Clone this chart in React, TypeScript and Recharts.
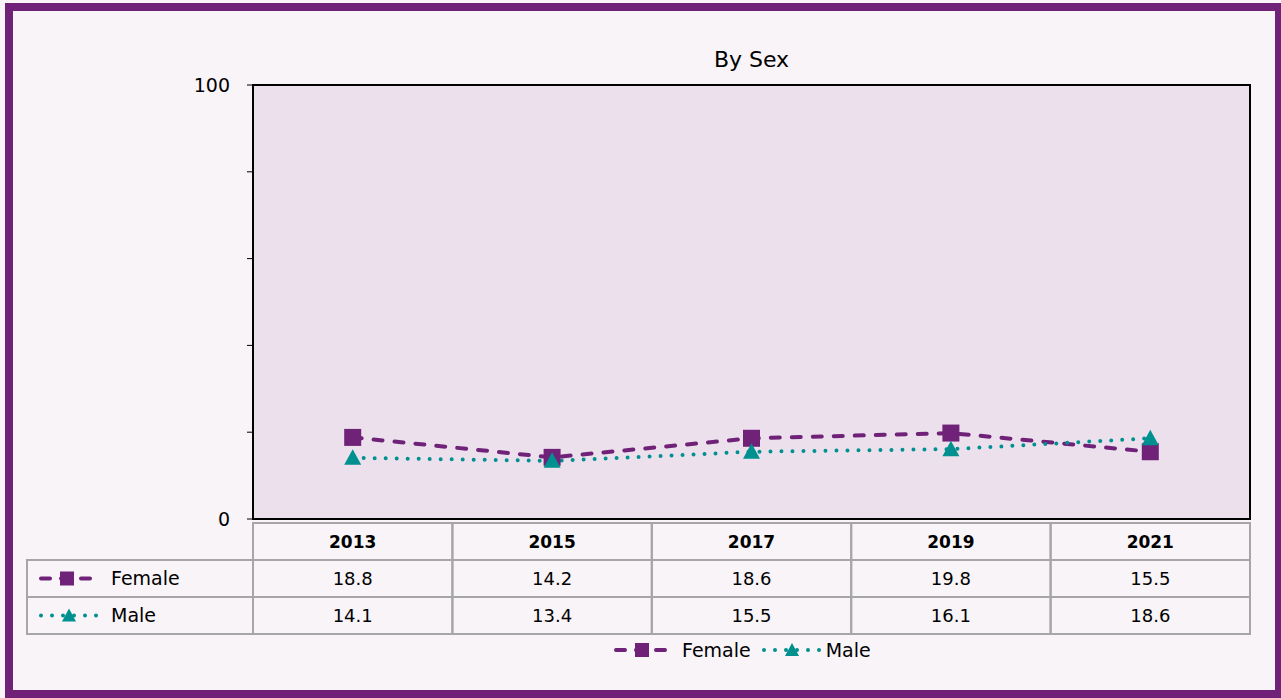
import React from "react";
import { LineChart, Line, XAxis, YAxis } from "recharts";

const years = ["2013", "2015", "2017", "2019", "2021"];
const female = [18.8, 14.2, 18.6, 19.8, 15.5];
const male = [14.1, 13.4, 15.5, 16.1, 18.6];
const yTicks = [0, 20, 40, 60, 80, 100];
const title = "By Sex";
const seriesNames = ["Female", "Male"];

const PURPLE = "#6f2277";
const TEAL = "#00908f";
const GRID = "#a6a6a6";
const FONT = "'DejaVu Sans', sans-serif";

const data = years.map((y, i) => ({ year: y, Female: female[i], Male: male[i] }));

const W = 1281;
const H = 698;
const PLOT_L = 253;
const PLOT_R = 1250;
const PLOT_T = 85;
const PLOT_B = 519;
const COL_W = (PLOT_R - PLOT_L) / years.length;

const SquareDot = (p: any) => {
  const { cx, cy, index } = p;
  if (cx == null || cy == null) return <g key={`sq-${index}`} />;
  return <rect key={`sq-${index}`} x={cx - 8.5} y={cy - 8.5} width={17} height={17} fill={PURPLE} />;
};

const TriDot = (p: any) => {
  const { cx, cy, index } = p;
  if (cx == null || cy == null) return <g key={`tr-${index}`} />;
  return (
    <polygon
      key={`tr-${index}`}
      points={`${cx},${cy - 8.5} ${cx + 8.5},${cy + 7} ${cx - 8.5},${cy + 7}`}
      fill={TEAL}
    />
  );
};

const FemaleIcon = ({ x, y }: { x: number; y: number }) => (
  <g>
    <line x1={x + 2} y1={y} x2={x + 58} y2={y} stroke={PURPLE} strokeWidth={4} strokeDasharray="9 11" strokeLinecap="round" />
    <rect x={x + 21} y={y - 7} width={14} height={14} fill={PURPLE} />
  </g>
);

const MaleIcon = ({ x, y }: { x: number; y: number }) => (
  <g>
    <line x1={x + 2} y1={y} x2={x + 58} y2={y} stroke={TEAL} strokeWidth={4} strokeDasharray="0 11" strokeLinecap="round" />
    <polygon points={`${x + 30},${y - 7} ${x + 37},${y + 6} ${x + 23},${y + 6}`} fill={TEAL} />
  </g>
);

const TableTick = (props: any) => {
  const { x, y, payload, index } = props;
  const i = typeof index === "number" ? index : years.indexOf(payload.value);
  const left = x - COL_W / 2;
  const top = y + 4;
  const hH = 37;
  const rH = 37;
  return (
    <g>
      <rect x={left} y={top} width={COL_W} height={hH} fill="none" stroke={GRID} strokeWidth={2} />
      <rect x={left} y={top + hH} width={COL_W} height={rH} fill="none" stroke={GRID} strokeWidth={2} />
      <rect x={left} y={top + hH + rH} width={COL_W} height={rH} fill="none" stroke={GRID} strokeWidth={2} />
      <text x={x} y={top + hH / 2 + 6} textAnchor="middle" fontFamily={FONT} fontSize={17} fontWeight="bold" fill="#000">
        {payload.value}
      </text>
      <text x={x} y={top + hH + rH / 2 + 6.5} textAnchor="middle" fontFamily={FONT} fontSize={18} fill="#000">
        {female[i]}
      </text>
      <text x={x} y={top + hH + rH + rH / 2 + 6.5} textAnchor="middle" fontFamily={FONT} fontSize={18} fill="#000">
        {male[i]}
      </text>
      {i === 0 && (
        <g>
          <rect x={27} y={top + hH} width={left - 27} height={rH} fill="none" stroke={GRID} strokeWidth={2} />
          <rect x={27} y={top + hH + rH} width={left - 27} height={rH} fill="none" stroke={GRID} strokeWidth={2} />
          <FemaleIcon x={39} y={top + hH + rH / 2} />
          <text x={111} y={top + hH + rH / 2 + 6.5} fontFamily={FONT} fontSize={19} fill="#000">
            {seriesNames[0]}
          </text>
          <MaleIcon x={39} y={top + hH + rH + rH / 2} />
          <text x={111} y={top + hH + rH + rH / 2 + 6.5} fontFamily={FONT} fontSize={19} fill="#000">
            {seriesNames[1]}
          </text>
        </g>
      )}
    </g>
  );
};

export default function App() {
  return (
    <div
      style={{
        position: "absolute",
        left: 0,
        top: 0,
        width: W,
        height: H,
        background: "#f8f4f8",
        fontFamily: FONT,
        overflow: "hidden",
      }}
    >
      <div
        style={{
          position: "absolute",
          left: 5,
          top: 3,
          width: W - 5 + 2,
          height: H - 3,
          boxSizing: "border-box",
          border: `8px solid ${PURPLE}`,
        }}
      />
      <div
        style={{
          position: "absolute",
          left: PLOT_L - 1,
          top: PLOT_T - 1,
          width: PLOT_R - PLOT_L + 2,
          height: PLOT_B - PLOT_T + 2,
          boxSizing: "border-box",
          border: "2px solid #000",
          background: "#ebe0ec",
        }}
      />
      <div
        style={{
          position: "absolute",
          left: PLOT_L,
          width: PLOT_R - PLOT_L,
          top: 47,
          textAlign: "center",
          fontSize: 22,
          lineHeight: "26px",
          color: "#000",
        }}
      >
        {title}
      </div>
      <div style={{ position: "absolute", left: 0, top: 0 }}>
        <LineChart
          width={W}
          height={H}
          data={data}
          margin={{ top: PLOT_T, right: W - PLOT_R, left: PLOT_L - 60, bottom: 0 }}
        >
          <XAxis
            dataKey="year"
            padding={{ left: COL_W / 2, right: COL_W / 2 }}
            axisLine={{ stroke: "#000", strokeWidth: 2 }}
            tickLine={false}
            tickSize={0}
            tickMargin={0}
            interval={0}
            height={H - PLOT_B}
            tick={<TableTick />}
          />
          <YAxis
            width={60}
            domain={[0, 100]}
            ticks={yTicks}
            interval={0}
            tickFormatter={(v: number) => (v === 0 || v === 100 ? String(v) : "")}
            axisLine={{ stroke: "#000", strokeWidth: 2 }}
            tickLine={{ stroke: "#000", strokeWidth: 1 }}
            tickSize={6}
            tickMargin={17}
            tick={{ fill: "#000", fontSize: 19, fontFamily: FONT }}
          />
          <Line
            dataKey="Female"
            stroke={PURPLE}
            strokeWidth={4}
            strokeDasharray="9 12"
            strokeLinecap="round"
            dot={SquareDot}
            activeDot={false}
            isAnimationActive={false}
          />
          <Line
            dataKey="Male"
            stroke={TEAL}
            strokeWidth={4}
            strokeDasharray="0 11"
            strokeLinecap="round"
            dot={TriDot}
            activeDot={false}
            isAnimationActive={false}
          />
        </LineChart>
      </div>
      <div
        style={{
          position: "absolute",
          top: 637,
          left: 613,
          height: 26,
          display: "flex",
          alignItems: "center",
          fontSize: 19,
          color: "#000",
          whiteSpace: "nowrap",
        }}
      >
        <svg width={62} height={26} style={{ display: "block" }}>
          <FemaleIcon x={1} y={13} />
        </svg>
        <span style={{ marginLeft: 7 }}>{seriesNames[0]}</span>
        <svg width={62} height={26} style={{ display: "block", marginLeft: 10 }}>
          <MaleIcon x={1} y={13} />
        </svg>
        <span style={{ marginLeft: 3 }}>{seriesNames[1]}</span>
      </div>
    </div>
  );
}
